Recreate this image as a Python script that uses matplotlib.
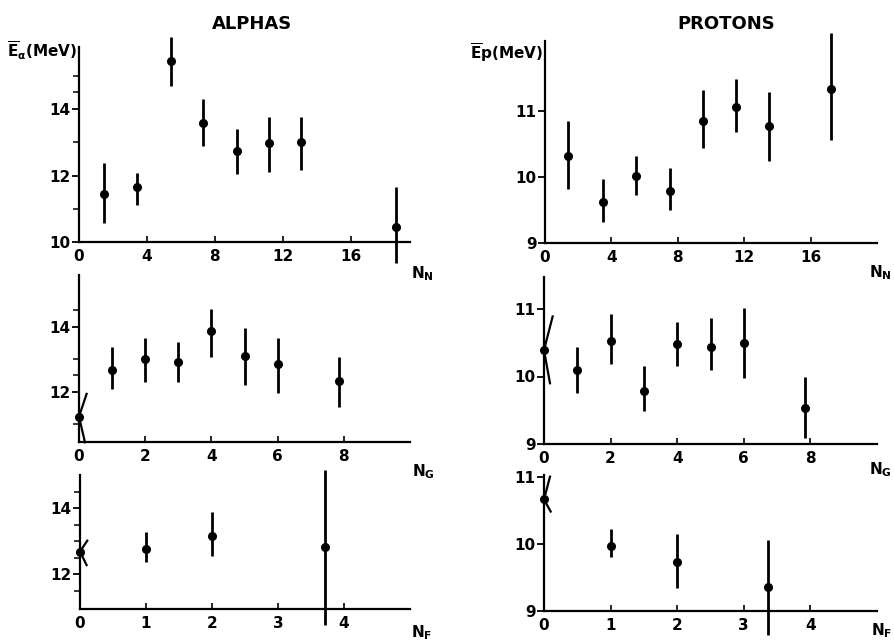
import matplotlib
matplotlib.use('Agg')
import matplotlib.pyplot as plt
import numpy as np

plt.rcParams['font.family'] = ['DejaVu Sans']
plt.rcParams['mathtext.fontset'] = 'dejavusans'

W, H = 894, 643

# ---------------- data ----------------
# ALPHAS vs N_N
a_nn_x = [1.5, 3.4, 5.4, 7.3, 9.3, 11.2, 13.1, 18.7]
a_nn_y = [11.44, 11.65, 15.44, 13.59, 12.74, 12.97, 13.01, 10.45]
a_nn_hi = [12.37, 12.09, 16.17, 14.30, 13.39, 13.75, 13.77, 11.67]
a_nn_lo = [10.57, 11.12, 14.70, 12.90, 12.05, 12.12, 12.17, 9.38]

# PROTONS vs N_N
p_nn_x = [1.4, 3.5, 5.5, 7.5, 9.5, 11.5, 13.5, 17.2]
p_nn_y = [10.31, 9.62, 10.01, 9.79, 10.85, 11.06, 10.77, 11.33]
p_nn_hi = [10.85, 9.97, 10.32, 10.13, 11.31, 11.48, 11.28, 12.17]
p_nn_lo = [9.81, 9.31, 9.72, 9.50, 10.44, 10.67, 10.24, 10.56]

# ALPHAS vs N_G
a_ng_x = [1, 2, 3, 4, 5, 6, 7.84]
a_ng_y = [12.67, 12.99, 12.92, 13.85, 13.10, 12.84, 12.33]
a_ng_hi = [13.38, 13.66, 13.52, 14.54, 13.95, 13.66, 13.08]
a_ng_lo = [12.07, 12.31, 12.31, 13.05, 12.20, 11.97, 11.54]
a_ng_zero = 11.23
a_ng_slash = [(0.23, 11.93), (0.18, 10.44)]

# PROTONS vs N_G
p_ng_x = [1, 2, 3, 4, 5, 6, 7.85]
p_ng_y = [10.09, 10.52, 9.79, 10.48, 10.43, 10.50, 9.54]
p_ng_hi = [10.43, 10.92, 10.16, 10.81, 10.87, 11.02, 10.00]
p_ng_lo = [9.75, 10.18, 9.49, 10.16, 10.09, 9.98, 9.09]
p_ng_zero = 10.39
p_ng_slash = [(0.26, 10.89), (0.18, 9.90)]

# ALPHAS vs N_F
a_nf_x = [1, 2, 3.71]
a_nf_y = [12.78, 13.17, 12.83]
a_nf_hi = [13.29, 13.90, 15.16]
a_nf_lo = [12.36, 12.56, 10.47]
a_nf_zero = 12.69
a_nf_slash = [(0.11, 13.02), (0.10, 12.28)]

# PROTONS vs N_F
p_nf_x = [1, 2, 3.36]
p_nf_y = [9.97, 9.72, 9.35]
p_nf_hi = [10.22, 10.15, 10.06]
p_nf_lo = [9.80, 9.34, 8.64]
p_nf_zero = 10.66
p_nf_slash = [(0.09, 11.00), (0.10, 10.48)]

fig = plt.figure(figsize=(8.94, 6.43), dpi=100)

def make_axes(x0, x1, ytop, ybot):
    return fig.add_axes([x0 / W, 1 - ybot / H, (x1 - x0) / W, (ybot - ytop) / H])

def style(ax, xlim, ylim, spine_top, xticks, yticks, yminor):
    ax.set_xlim(*xlim)
    ax.set_ylim(*ylim)
    for s in ['top', 'right']:
        ax.spines[s].set_visible(False)
    ax.spines['left'].set_bounds(ylim[0], spine_top)
    ax.spines['left'].set_linewidth(1.6)
    ax.spines['bottom'].set_linewidth(1.6)
    ax.set_xticks(xticks)
    ax.set_xticklabels([str(t) for t in xticks])
    ax.set_yticks(yticks)
    ax.set_yticklabels([str(t) for t in yticks])
    ax.set_yticks(yminor, minor=True)
    ax.tick_params(axis='x', direction='in', length=4, width=1.2, pad=5,
                   labelsize=11)
    ax.tick_params(axis='y', which='major', direction='out', length=5,
                   width=1.3, pad=1, labelsize=11)
    ax.tick_params(axis='y', which='minor', direction='out', length=4,
                   width=1.1)
    for lab in ax.get_xticklabels() + ax.get_yticklabels():
        lab.set_fontweight('bold')
    ax.patch.set_alpha(0)

def draw(ax, x, y, hi, lo, zero=None, slash=None):
    y = np.array(y); hi = np.array(hi); lo = np.array(lo)
    cont = ax.errorbar(x, y, yerr=[y - lo, hi - y], fmt='o', ms=5.5,
                       color='black', ecolor='black', elinewidth=2.0,
                       capsize=0, zorder=3)
    for art in cont.get_children():
        art.set_clip_on(False)
    if zero is not None:
        ax.plot([0], [zero], 'o', ms=5.5, color='black', clip_on=False, zorder=3)
        (ux, uy), (dx, dy) = slash
        ax.plot([ux, 0, dx], [uy, zero, dy], color='black', lw=1.6,
                clip_on=False, zorder=3)

# Top-left
ax1 = make_axes(79, 410, 242.3 - 6.2 * 33.33, 242.3)
style(ax1, (0, 19.5), (10, 16.2), 15.85, [0, 4, 8, 12, 16], [10, 12, 14],
      [11, 13, 14.5, 15])
draw(ax1, a_nn_x, a_nn_y, a_nn_hi, a_nn_lo)

# Top-right
ax2 = make_axes(545, 877, 242.7 - 3.2 * 66, 242.7)
style(ax2, (0, 20), (9, 12.2), 12.05, [0, 4, 8, 12, 16], [9, 10, 11], [])
draw(ax2, p_nn_x, p_nn_y, p_nn_hi, p_nn_lo)

# Middle-left
ax3 = make_axes(79, 410, 442.3 - 5.16 * 32.5, 442.3)
style(ax3, (0, 10), (10.44, 15.6), 15.6, [0, 2, 4, 6, 8], [12, 14],
      [11, 12.5, 13, 14.5])
draw(ax3, a_ng_x, a_ng_y, a_ng_hi, a_ng_lo, a_ng_zero, a_ng_slash)

# Middle-right
ax4 = make_axes(544, 877, 444 - 2.5 * 67.5, 444)
style(ax4, (0, 10), (9, 11.5), 11.48, [0, 2, 4, 6, 8], [9, 10, 11], [])
draw(ax4, p_ng_x, p_ng_y, p_ng_hi, p_ng_lo, p_ng_zero, p_ng_slash)

# Bottom-left
ax5 = make_axes(80, 410, 609 - 4.25 * 33, 609)
style(ax5, (0, 5), (10.95, 15.2), 15.0, [0, 1, 2, 3, 4], [12, 14],
      [11.5, 12.5, 13, 13.5, 14.5])
draw(ax5, a_nf_x, a_nf_y, a_nf_hi, a_nf_lo, a_nf_zero, a_nf_slash)

# Bottom-right
ax6 = make_axes(544, 877, 610.7 - 2.05 * 67, 610.7)
style(ax6, (0, 5), (9, 11.05), 11.02, [0, 1, 2, 3, 4], [9, 10, 11], [])
draw(ax6, p_nf_x, p_nf_y, p_nf_hi, p_nf_lo, p_nf_zero, p_nf_slash)

def ftext(x, y, s, **kw):
    fig.text(x / W, 1 - y / H, s, **kw)

ftext(252, 24, 'ALPHAS', ha='center', va='center', fontsize=13, fontweight='bold')
ftext(726, 24, 'PROTONS', ha='center', va='center', fontsize=13, fontweight='bold')
ftext(77, 51, r'$\overline{\mathbf{E}}_{\mathbf{\alpha}}$(MeV)', ha='right',
      va='center', fontsize=11, fontweight='bold')
ftext(543, 53, r'$\overline{\mathbf{E}}\mathbf{p}$(MeV)', ha='right',
      va='center', fontsize=11, fontweight='bold')

for (x, y, s) in [(411, 274, r'$\mathbf{N_N}$'), (412, 472, r'$\mathbf{N_G}$'),
                  (411, 633, r'$\mathbf{N_F}$')]:
    ftext(x, y, s, ha='left', va='center', fontsize=11)
for (x, y, s) in [(892, 273, r'$\mathbf{N_N}$'), (892, 470, r'$\mathbf{N_G}$'),
                  (892, 631, r'$\mathbf{N_F}$')]:
    ftext(x, y, s, ha='right', va='center', fontsize=11)

fig.savefig('out.png', dpi=100)
